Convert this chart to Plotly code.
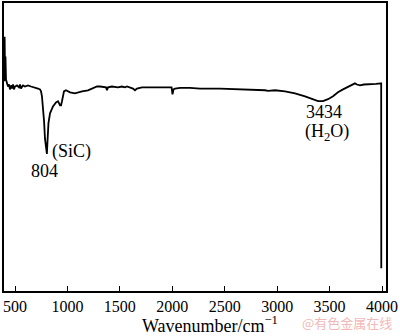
import plotly.graph_objects as go

wavenumber = [398, 401, 405, 409, 414, 424, 433, 443, 452, 462, 471, 481, 490, 500, 519, 538, 548, 557, 576, 595, 624, 653, 691, 719, 738, 748, 757, 767, 777, 786, 804, 810, 819, 834, 862, 891, 910, 929, 939, 948, 958, 967, 986, 1025, 1072, 1101, 1139, 1196, 1234, 1263, 1282, 1311, 1349, 1368, 1377, 1387, 1425, 1482, 1520, 1549, 1568, 1597, 1625, 1644, 1663, 1711, 1787, 1883, 1993, 2002, 2012, 2026, 2074, 2169, 2264, 2455, 2646, 2789, 2884, 2913, 2980, 3075, 3170, 3266, 3332, 3390, 3437, 3485, 3533, 3580, 3628, 3676, 3723, 3742, 3761, 3790, 3828, 3885, 3943, 3990, 3992, 3993]
transmittance = [72.8, 88.3, 74.5, 81.4, 73.4, 72.1, 71.0, 71.7, 70.0, 71.4, 70.3, 71.7, 70.0, 71.0, 71.4, 70.7, 71.7, 70.3, 71.4, 71.0, 71.4, 71.0, 70.7, 70.3, 70.0, 69.3, 67.6, 64.1, 59.0, 52.8, 47.6, 52.1, 58.3, 61.7, 64.1, 65.5, 65.9, 64.5, 64.5, 65.9, 67.9, 69.3, 69.7, 69.0, 68.6, 69.0, 69.3, 69.7, 70.3, 70.7, 71.0, 71.0, 70.7, 70.7, 69.7, 70.7, 71.0, 70.7, 71.0, 70.7, 71.0, 70.7, 70.3, 69.7, 70.3, 70.7, 70.7, 70.7, 70.7, 68.3, 70.0, 70.3, 70.5, 70.5, 70.3, 70.3, 70.0, 70.0, 69.7, 69.5, 69.7, 69.3, 68.6, 67.6, 66.6, 65.9, 65.9, 66.6, 67.6, 69.0, 70.0, 71.0, 71.7, 72.1, 71.7, 71.4, 71.7, 71.7, 71.9, 72.1, 72.1, 7.9]

tick_values = [500, 1000, 1500, 2000, 2500, 3000, 3500, 4000]
tick_labels = ["500", "1000", "1500", "2000", "2500", "3000", "3500", "4000"]

serif = "Liberation Serif"

fig = go.Figure()
fig.add_trace(go.Scatter(x=wavenumber, y=transmittance, mode="lines",
                         line=dict(color="black", width=1.8), showlegend=False))

fig.add_annotation(x=834, y=48.6, text="(SiC)", showarrow=False, xanchor="left",
                   font=dict(family=serif, size=18, color="black"))
fig.add_annotation(x=777, y=41.7, text="804", showarrow=False,
                   font=dict(family=serif, size=18, color="black"))
fig.add_annotation(x=3447, y=62.1, text="3434", showarrow=False,
                   font=dict(family=serif, size=18, color="black"))
fig.add_annotation(x=3475, y=55.2, text="(H<sub>2</sub>O)", showarrow=False,
                   font=dict(family=serif, size=18, color="black"))
fig.add_annotation(xref="paper", yref="paper", x=0.539, y=-0.115, yanchor="middle",
                   text="Wavenumber/cm<sup>−1</sup>", showarrow=False,
                   font=dict(family=serif, size=18, color="black"))
fig.add_annotation(xref="paper", yref="paper", x=1.02, y=-0.11, yanchor="middle", xanchor="right",
                   text="@有色金属在线", showarrow=False,
                   font=dict(family="Noto Sans CJK SC", size=13, color="#f2b8b8"))

fig.update_layout(
    width=400, height=336,
    margin=dict(l=4, r=14, t=1, b=45),
    plot_bgcolor="white", paper_bgcolor="white",
    xaxis=dict(range=[395, 4038], tickvals=tick_values, ticktext=tick_labels,
               ticks="inside", ticklen=5, tickwidth=1.3, tickcolor="black",
               showline=True, linecolor="black", linewidth=1.5, mirror=True,
               showgrid=False, zeroline=False,
               tickfont=dict(family=serif, size=16, color="black")),
    yaxis=dict(range=[0, 100], showticklabels=False, ticks="",
               showline=True, linecolor="black", linewidth=1.5, mirror=True,
               showgrid=False, zeroline=False),
)

fig.write_html("out.html", config={"displayModeBar": False},
               post_script="document.body.style.margin='0px';document.body.style.overflow='hidden';")
